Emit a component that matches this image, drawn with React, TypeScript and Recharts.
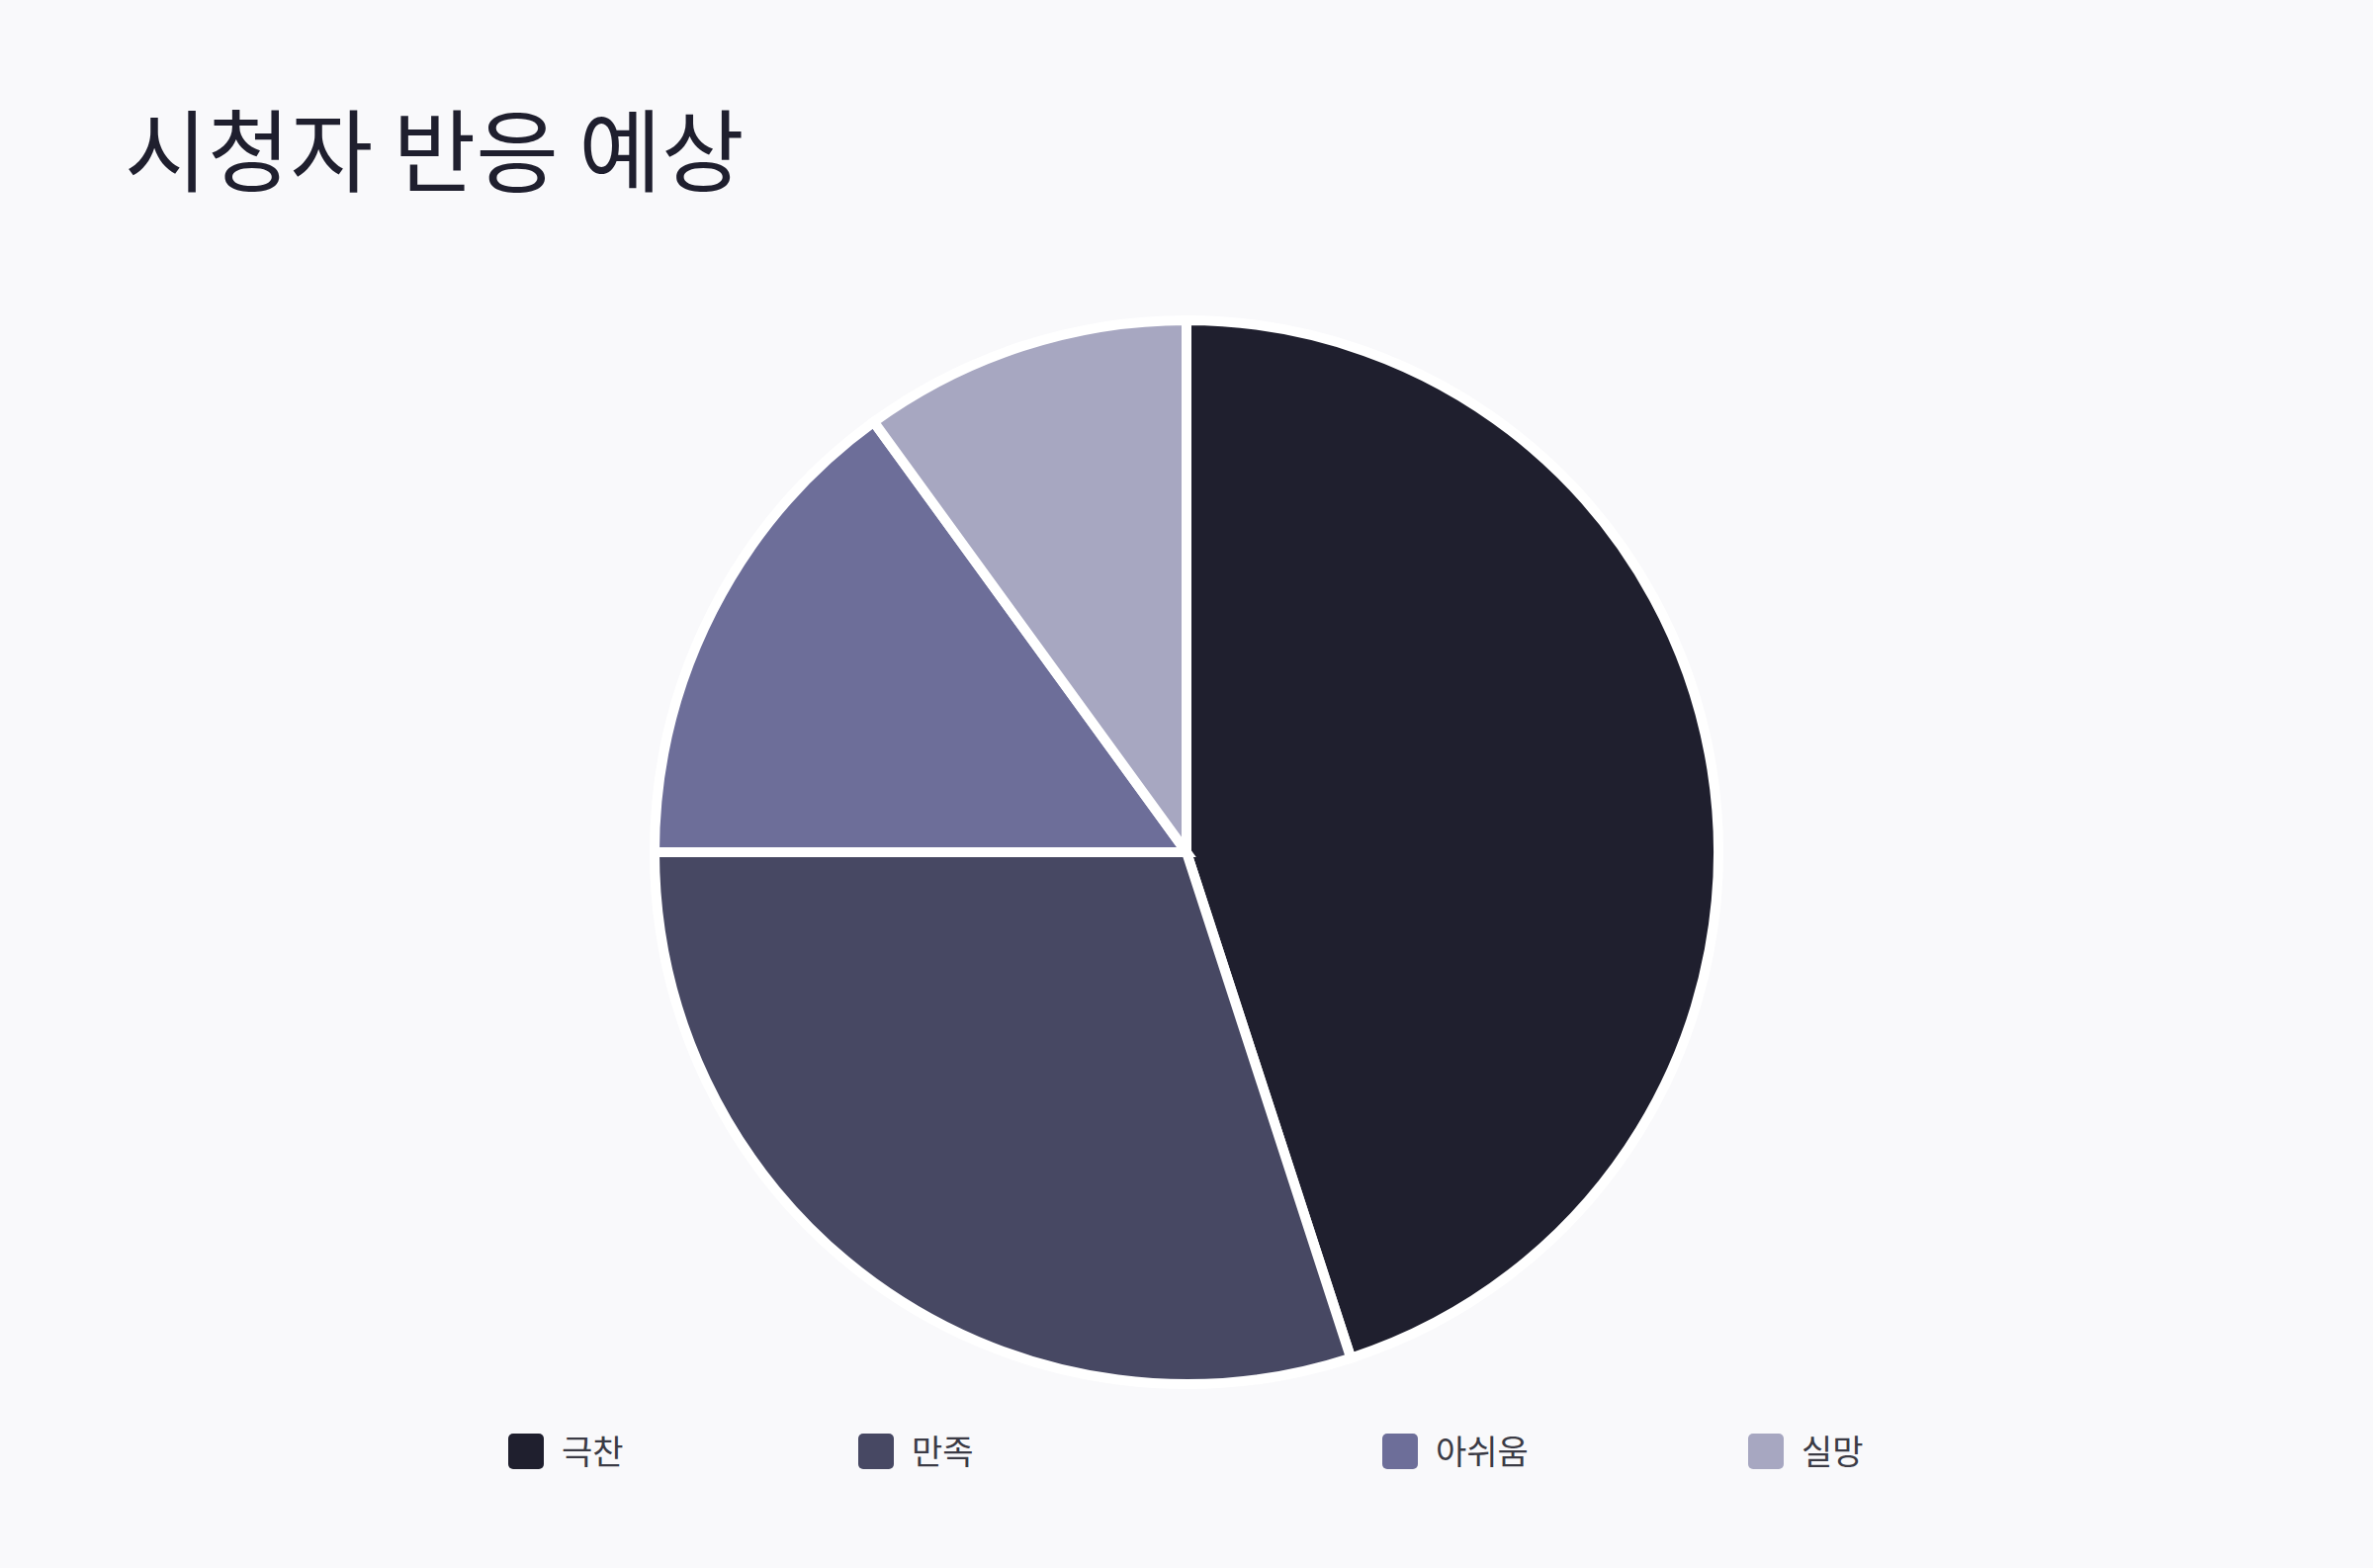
import React from "react";
import { PieChart, Pie, Cell, Legend } from "recharts";

const categories = ["극찬", "만족", "아쉬움", "실망"];
const shares = [45, 30, 15, 10];
const colors = ["#1f1f2e", "#474863", "#6d6e99", "#a7a7c1"];
const titleText = "시청자 반응 예상";

const data = categories.map((name, i) => ({ name, value: shares[i] }));

const W = 2400;
const H = 1586;
const BG = "#f9f9fb";
const FONT = '"Noto Sans CJK KR", "Noto Sans", sans-serif';
const LEGEND_X = [514, 868, 1398, 1768];

const renderLegend = (props: any) => {
  const payload = [...(props.payload || [])].sort(
    (a: any, b: any) => categories.indexOf(a.value) - categories.indexOf(b.value)
  );
  return (
    <div style={{ position: "relative", width: W, height: 60 }}>
      {payload.map((entry: any) => (
        <div
          key={entry.value}
          style={{
            position: "absolute",
            left: LEGEND_X[categories.indexOf(entry.value)],
            top: 0,
            height: 36,
            display: "flex",
            alignItems: "center",
            fontFamily: FONT,
            fontSize: 34,
            color: "#3b3b45",
            whiteSpace: "nowrap",
          }}
        >
          <span
            style={{
              display: "inline-block",
              width: 36,
              height: 36,
              borderRadius: 5,
              background: entry.color,
              marginRight: 18,
            }}
          />
          <span style={{ position: "relative", top: -2 }}>{entry.value}</span>
        </div>
      ))}
    </div>
  );
};

export default function App() {
  return (
    <div
      style={{
        position: "fixed",
        left: 0,
        top: 0,
        width: W,
        height: H,
        background: BG,
        overflow: "hidden",
      }}
    >
      <svg
        width={W}
        height={220}
        style={{ position: "absolute", left: 0, top: 0 }}
      >
        <text
          x={126}
          y={187}
          fontFamily={FONT}
          fontSize={91}
          fontWeight={400}
          fill="#1f1f2e"
        >
          {titleText}
        </text>
      </svg>
      <div style={{ position: "absolute", left: 0, top: 0 }}>
        <PieChart width={W} height={H} margin={{ top: 0, right: 0, bottom: 0, left: 0 }}>
          <Pie
            data={data}
            dataKey="value"
            nameKey="name"
            cx={1200}
            cy={862}
            outerRadius={538}
            innerRadius={0}
            startAngle={90}
            endAngle={-270}
            stroke="#ffffff"
            strokeWidth={10}
            isAnimationActive={false}
            label={false}
            labelLine={false}
          >
            {data.map((d, i) => (
              <Cell key={d.name} fill={colors[i]} stroke="#ffffff" strokeWidth={10} />
            ))}
          </Pie>
          <Legend
            content={renderLegend}
            wrapperStyle={{ position: "absolute", left: 0, top: 1450, width: W }}
          />
        </PieChart>
      </div>
    </div>
  );
}
